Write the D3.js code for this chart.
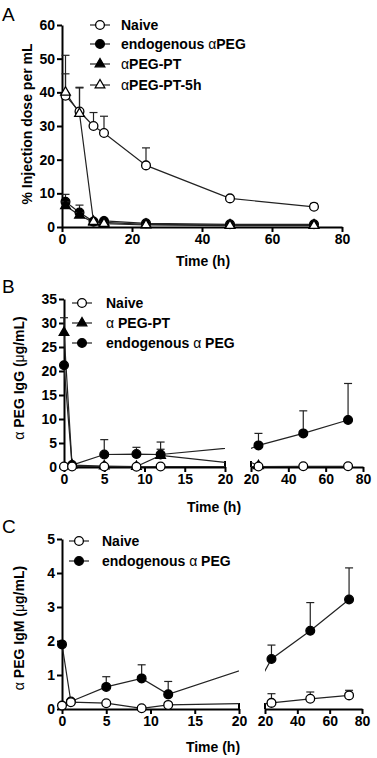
<!DOCTYPE html>
<html>
<head>
<meta charset="utf-8">
<script src="https://cdn.jsdelivr.net/npm/d3@7"></script>
<style>
  body { margin: 0; background: #fff; }
  text { font-family: "Liberation Sans", Arial, sans-serif; font-weight: bold; }
</style>
</head>
<body>
<div id="chart"></div>
<script>
// ---- data ----
// Panel A: % injection dose per mL
var timesA = [1, 5, 9, 12, 24, 48, 72];
var naiveA = [39, 34.3, 30, 27.9, 18.3, 8.5, 6];
var naiveAErr = [6.5, 7.2, 4, 5, 5.2, 0.4, 1];
var endoA = [7.5, 4.3, 1.6, 1.8, 1.1, 0.8, 0.8];
var endoAErr = [2.2, 2.2, 0.3, 0.3, 0.2, 0.1, 0.1];
var ptA = [6.3, 3.5, 1.4, 1.4, 0.8, 0.6, 0.6];
var ptAErr = [1.2, 0.8, 0.2, 0.2, 0.1, 0.1, 0.1];
var pt5hA = [40, 33.7, 1.6, 1.0, 0.6, 0.4, 0.4];
var pt5hAErr = [11, 7.6, 0.2, 0.1, 0.1, 0.1, 0.1];

// Panel B and C share time points
var timesBC = [0, 1, 5, 9, 12, 24, 48, 72];
// Panel B: aPEG IgG (ug/mL)
var naiveB = [0.1, 0.1, 0.1, 0.05, 0.1, 0.1, 0.15, 0.15];
var naiveBErr = [0, 0, 0, 0, 0, 0, 0, 0];
var ptB = [28, 0.4, 0.2, 0.1, 2.4, 0.25, null, null];
var ptBErr = [3.1, 0, 0, 0, 1.3, 0, 0, 0];
var endoB = [21.2, 0.4, 2.6, 2.7, 2.6, 4.5, 7.0, 9.8];
var endoBErr = [0, 0, 3.1, 1.4, 2.6, 2.5, 4.7, 7.6];
// Panel C: aPEG IgM (ug/mL)
var naiveC = [0.1, 0.2, 0.17, 0.02, 0.12, 0.18, 0.3, 0.4];
var naiveCErr = [0, 0, 0, 0, 0, 0.27, 0.2, 0.15];
var endoC = [1.9, 0.22, 0.65, 0.9, 0.43, 1.47, 2.3, 3.22];
var endoCErr = [0, 0, 0.3, 0.4, 0.38, 0.41, 0.83, 0.93];

var ticksA_x = [0, 20, 40, 60, 80];
var ticksA_y = [0, 10, 20, 30, 40, 50, 60];
var ticksLeft = [0, 5, 10, 15, 20];
var ticksRight = [20, 40, 60, 80];
var ticksB_y = [0, 5, 10, 15, 20, 25, 30, 35];
var ticksC_y = [0, 1, 2, 3, 4, 5];

var svgWidth = 377;
var svgHeight = 758;
var fontSize = "14px";

var svg = d3.select("#chart")
  .append("svg")
  .attr("width", svgWidth)
  .attr("height", svgHeight);

svg.append("rect").attr("width", svgWidth).attr("height", svgHeight).attr("fill", "#fff");

var clipCount = 0;

// text with greek letters set in a lighter weight
function richText(sel, str) {
  str.split(/([αμ])/).forEach(function(part) {
    if (part === "") return;
    var t = sel.append("tspan").text(part);
    if (part === "α" || part === "μ") t.style("font-weight", "normal");
  });
}

function symbolPath(type) {
  if (type === "circle") return d3.symbol().type(d3.symbolCircle).size(60)();
  return d3.symbol().type(d3.symbolTriangle).size(40)();
}

function drawMarker(g, type, filled, cx, cy) {
  g.append("path")
    .attr("d", symbolPath(type))
    .attr("transform", `translate(${cx},${cy})`)
    .attr("fill", filled ? "#000" : "#fff")
    .attr("stroke", "#000")
    .attr("stroke-width", 1.3);
}

function drawPanel(p) {
  var g = svg.append("g");
  var y = d3.scaleLinear().domain(p.yDomain).range(p.yRange);
  var segs = p.segments.map(function(s) {
    return { x: d3.scaleLinear().domain(s.domain).range(s.range), domain: s.domain, range: s.range, ticks: s.ticks };
  });
  var y0 = p.yRange[0];

  // y axis
  var yAxis = g.append("g")
    .attr("transform", `translate(${segs[0].range[0]},0)`)
    .call(d3.axisLeft(y).tickValues(p.yTicks).tickFormat(d3.format("d"))
      .tickSize(5).tickSizeOuter(0).tickPadding(2));

  // x axes
  var xAxes = segs.map(function(s) {
    return g.append("g")
      .attr("transform", `translate(0,${y0})`)
      .call(d3.axisBottom(s.x).tickValues(s.ticks).tickSize(5).tickSizeOuter(0).tickPadding(2));
  });

  [yAxis].concat(xAxes).forEach(function(ax) {
    ax.select(".domain").attr("stroke", "#000").attr("stroke-width", 2);
    ax.selectAll(".tick line").attr("stroke", "#000").attr("stroke-width", 2);
    ax.selectAll(".tick text").attr("fill", "#000").style("font-size", fontSize).style("font-weight", "bold")
      .style("font-family", "'Liberation Sans', Arial, sans-serif");
  });

  // break marks at segment ends
  if (segs.length > 1) {
    segs.forEach(function(s, i) {
      var xe = i === 0 ? s.range[1] : s.range[0];
      g.append("line").attr("x1", xe).attr("x2", xe).attr("y1", y0 - 6).attr("y2", y0)
        .attr("stroke", "#000").attr("stroke-width", 2);
    });
  }

  // connecting lines, drawn per segment and clipped so they cross the break
  p.series.forEach(function(ser) {
    var pts = ser.times.map(function(t, i) { return { t: t, v: ser.values[i] }; })
      .filter(function(d) { return d.v !== null; });
    segs.forEach(function(s) {
      var id = "clip" + (clipCount++);
      svg.append("clipPath").attr("id", id).append("rect")
        .attr("x", s.range[0]).attr("y", p.yRange[1] - 40)
        .attr("width", s.range[1] - s.range[0]).attr("height", p.yRange[0] - p.yRange[1] + 45);
      g.append("path")
        .datum(pts)
        .attr("clip-path", `url(#${id})`)
        .attr("fill", "none")
        .attr("stroke", "#222")
        .attr("stroke-width", 1.2)
        .attr("d", d3.line().x(function(d) { return s.x(d.t); }).y(function(d) { return y(d.v); }));
    });
  });

  // error bars and markers
  p.drawOrder.forEach(function(k) {
    var ser = p.series[k];
    ser.times.forEach(function(t, i) {
      var s = segs.find(function(sg) { return t >= sg.domain[0] && t <= sg.domain[1]; });
      if (!s || ser.values[i] === null) return;
      var cx = s.x(t), cy = y(ser.values[i]);
      var e = ser.err[i];
      if (e > 0) {
        var top = y(ser.values[i] + e);
        g.append("line").attr("x1", cx).attr("x2", cx).attr("y1", cy).attr("y2", top)
          .attr("stroke", "#222").attr("stroke-width", 1.2);
        g.append("line").attr("x1", cx - 4).attr("x2", cx + 4).attr("y1", top).attr("y2", top)
          .attr("stroke", "#222").attr("stroke-width", 1.2);
      }
    });
    ser.times.forEach(function(t, i) {
      var s = segs.find(function(sg) { return t >= sg.domain[0] && t <= sg.domain[1]; });
      if (!s || ser.values[i] === null) return;
      drawMarker(g, ser.symbol, ser.filled, s.x(t), y(ser.values[i]));
    });
  });

  // legend
  p.series.forEach(function(ser, i) {
    var ly = p.legend.y[i];
    g.append("line").attr("x1", p.legend.x - 10).attr("x2", p.legend.x + 10).attr("y1", ly).attr("y2", ly)
      .attr("stroke", "#222").attr("stroke-width", 1.2);
    drawMarker(g, ser.symbol, ser.filled, p.legend.x, ly);
    var t = g.append("text").attr("x", p.legend.textX).attr("y", ly).attr("dy", "0.35em")
      .style("font-size", fontSize);
    richText(t, ser.name);
  });

  // axis titles
  var tx = g.append("text").attr("x", p.xTitle[0]).attr("y", p.xTitle[1]).attr("text-anchor", "middle")
    .attr("dy", "0.35em").style("font-size", fontSize);
  richText(tx, "Time (h)");
  var ty = g.append("text")
    .attr("transform", `translate(${p.yTitle[0]},${p.yTitle[1]}) rotate(-90)`)
    .attr("text-anchor", "middle").attr("dy", "0.35em").style("font-size", fontSize);
  richText(ty, p.yTitleText);

  // panel letter
  g.append("text").attr("x", p.letterPos[0]).attr("y", p.letterPos[1])
    .style("font-size", "19px").style("font-weight", "normal").text(p.letter);
}

drawPanel({
  letter: "A", letterPos: [2, 21],
  yDomain: [0, 60], yRange: [227, 25], yTicks: ticksA_y,
  segments: [{ domain: [0, 80], range: [62, 342], ticks: ticksA_x }],
  series: [
    { name: "Naive", times: timesA, values: naiveA, err: naiveAErr, symbol: "circle", filled: false },
    { name: "endogenous αPEG", times: timesA, values: endoA, err: endoAErr, symbol: "circle", filled: true },
    { name: "αPEG-PT", times: timesA, values: ptA, err: ptAErr, symbol: "triangle", filled: true },
    { name: "αPEG-PT-5h", times: timesA, values: pt5hA, err: pt5hAErr, symbol: "triangle", filled: false }
  ],
  drawOrder: [1, 2, 0, 3],
  legend: { x: 100, textX: 121, y: [25, 44, 64, 85] },
  xTitle: [203, 261], yTitle: [27, 124], yTitleText: "% Injection dose per mL"
});

drawPanel({
  letter: "B", letterPos: [2, 293],
  yDomain: [0, 35], yRange: [467, 299], yTicks: ticksB_y,
  segments: [
    { domain: [0, 20], range: [64, 225], ticks: ticksLeft },
    { domain: [20, 80], range: [251, 363], ticks: ticksRight }
  ],
  series: [
    { name: "Naive", times: timesBC, values: naiveB, err: naiveBErr, symbol: "circle", filled: false },
    { name: "α PEG-PT", times: timesBC, values: ptB, err: ptBErr, symbol: "triangle", filled: true },
    { name: "endogenous α PEG", times: timesBC, values: endoB, err: endoBErr, symbol: "circle", filled: true }
  ],
  drawOrder: [1, 2, 0],
  legend: { x: 82, textX: 106, y: [303, 323, 343] },
  xTitle: [214, 507], yTitle: [19, 378], yTitleText: "α PEG IgG (μg/mL)"
});

drawPanel({
  letter: "C", letterPos: [2, 533],
  yDomain: [0, 5], yRange: [709, 539], yTicks: ticksC_y,
  segments: [
    { domain: [0, 20], range: [62, 239], ticks: ticksLeft },
    { domain: [20, 80], range: [265, 362], ticks: ticksRight }
  ],
  series: [
    { name: "Naive", times: timesBC, values: naiveC, err: naiveCErr, symbol: "circle", filled: false },
    { name: "endogenous α PEG", times: timesBC, values: endoC, err: endoCErr, symbol: "circle", filled: true }
  ],
  drawOrder: [1, 0],
  legend: { x: 79, textX: 102, y: [541, 561] },
  xTitle: [213, 747], yTitle: [19, 628], yTitleText: "α PEG IgM (μg/mL)"
});
</script>
</body>
</html>
